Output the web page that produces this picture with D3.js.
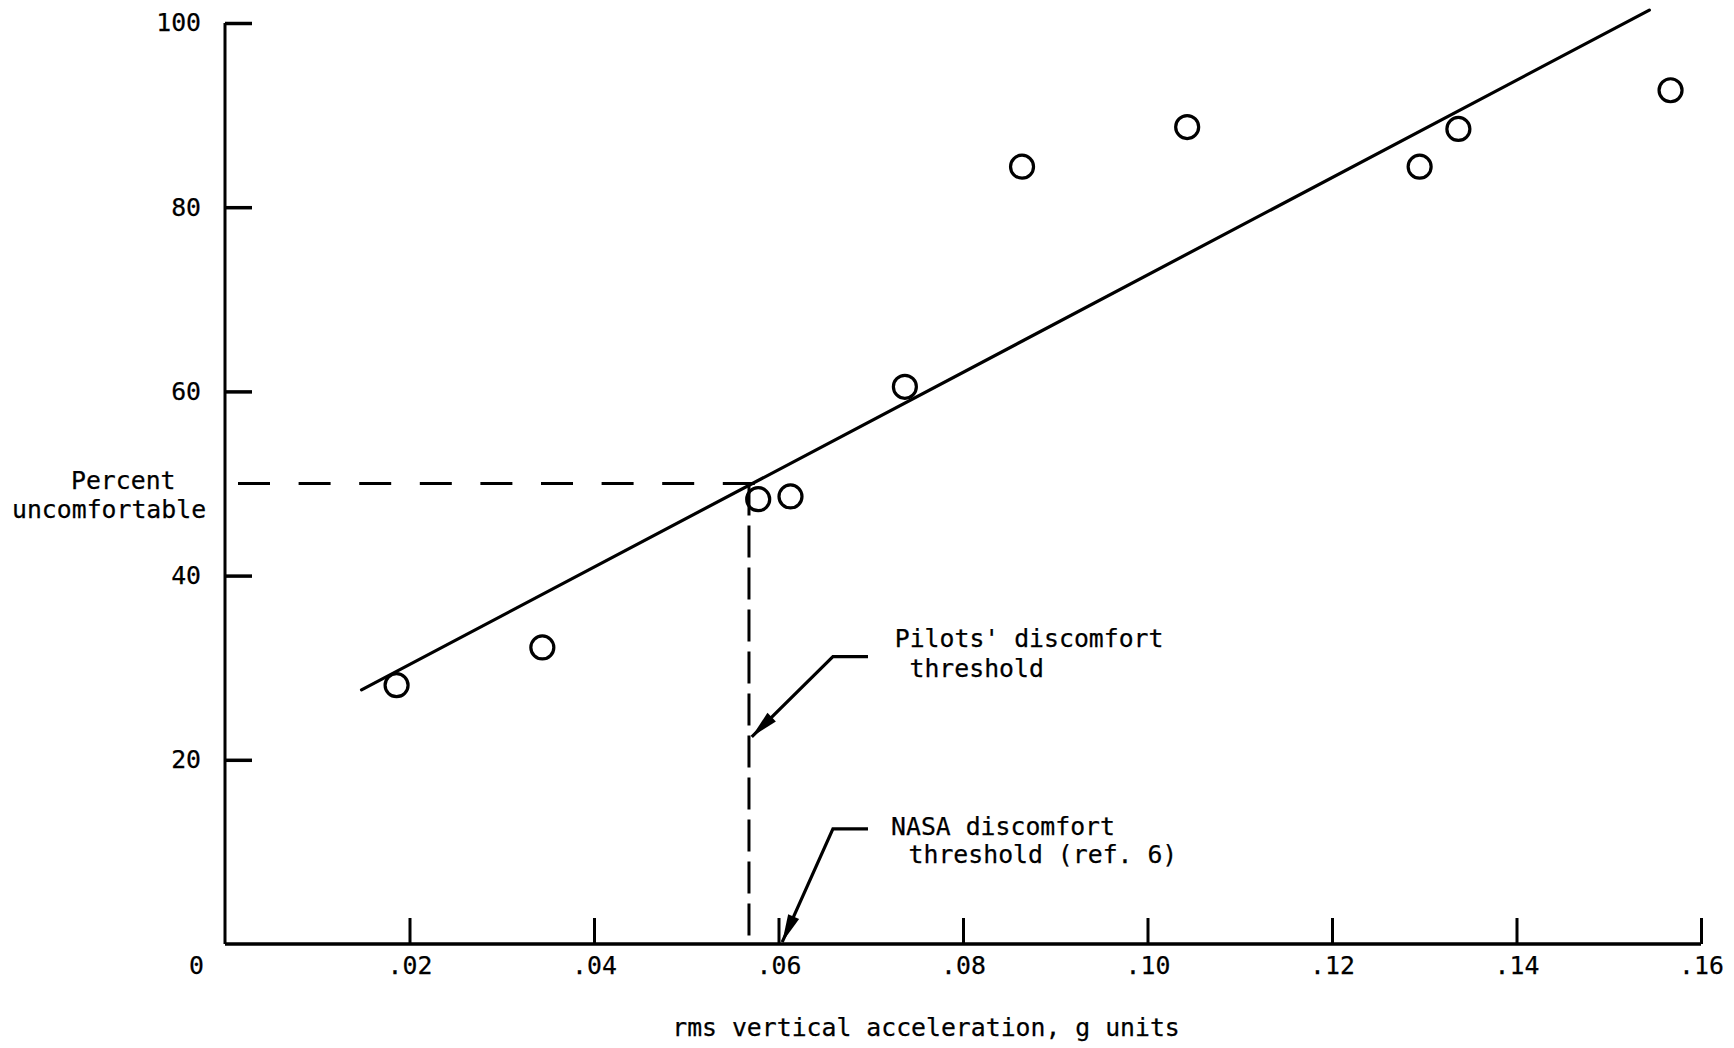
<!DOCTYPE html>
<html>
<head>
<meta charset="utf-8">
<script src="https://cdn.jsdelivr.net/npm/d3@7"></script>
<style>
  html, body { margin: 0; padding: 0; background: #fff; }
  svg { display: block; }
  text { font-family: "DejaVu Sans Mono", "Liberation Mono", monospace; fill: #000; stroke: #000; stroke-width: 0.25px; }
</style>
</head>
<body>
<svg id="chart" width="1734" height="1048"></svg>
<script>
// ---- data ----
const accel   = [0.0186, 0.0344, 0.0578, 0.0613, 0.0737, 0.0864, 0.1043, 0.1295, 0.1337, 0.1567];
const percent = [28.1, 32.2, 48.3, 48.6, 60.5, 84.4, 88.7, 84.4, 88.5, 92.7];
const fitX = [0.0148, 0.1544];
const fitY = [27.6, 101.4];
const thresholdX = 0.0568;   // pilots' discomfort threshold
const thresholdY = 50;
const nasaX = 0.0604;        // NASA discomfort threshold
const xTicks = [0.02, 0.04, 0.06, 0.08, 0.10, 0.12, 0.14, 0.16];
const xTickLabels = [".02", ".04", ".06", ".08", ".10", ".12", ".14", ".16"];
const yTicks = [20, 40, 60, 80, 100];
const yTickLabels = ["20", "40", "60", "80", "100"];
const xTitle = "rms vertical acceleration, g units";
const yTitle = ["Percent", "uncomfortable"];
const pilotsLabel = ["Pilots' discomfort", "threshold"];
const nasaLabel = ["NASA discomfort", "threshold (ref. 6)"];

// ---- layout ----
const svg = d3.select("#chart");
const x = d3.scaleLinear().domain([0, 0.16]).range([225, 1701]);
const y = d3.scaleLinear().domain([0, 100]).range([944, 23]);
const FS = 24.8;

// y axis (ticks pointing right, labels left)
const yAxis = d3.axisLeft(y).tickValues(yTicks)
  .tickFormat((d, i) => yTickLabels[i])
  .tickSizeInner(-27).tickSizeOuter(0).tickPadding(24);
const gy = svg.append("g").attr("transform", `translate(${x(0)},0)`).call(yAxis);
gy.select(".domain").attr("d", `M0,${y(0)}V${y(100)}`).attr("stroke", "#000").attr("stroke-width", 3);
gy.selectAll(".tick line").attr("stroke", "#000").attr("stroke-width", 3.5);
gy.selectAll(".tick text").attr("font-size", FS).attr("font-family", "DejaVu Sans Mono").attr("fill", "#000");

// x axis (ticks pointing up, labels below)
const xAxis = d3.axisBottom(x).tickValues(xTicks)
  .tickFormat((d, i) => xTickLabels[i])
  .tickSizeInner(-26).tickSizeOuter(0).tickPadding(12);
const gx = svg.append("g").attr("transform", `translate(0,${y(0)})`).call(xAxis);
gx.select(".domain").attr("d", `M${x(0)},0H${x(0.16)}`).attr("stroke", "#000").attr("stroke-width", 3.5);
gx.selectAll(".tick line").attr("stroke", "#000").attr("stroke-width", 3);
gx.selectAll(".tick text").attr("font-size", FS).attr("font-family", "DejaVu Sans Mono").attr("fill", "#000");

// origin label
svg.append("text").attr("x", x(0) - 21).attr("y", y(0) + 12).attr("dy", "0.71em")
  .attr("text-anchor", "end").attr("font-size", FS).text("0");

// axis titles
svg.append("text").attr("x", 926).attr("y", 1036)
  .attr("text-anchor", "middle").attr("font-size", FS).text(xTitle);
svg.append("text").attr("x", 71).attr("y", 489).attr("font-size", FS).text(yTitle[0]);
svg.append("text").attr("x", 12).attr("y", 518).attr("font-size", FS).text(yTitle[1]);

// dashed threshold lines
svg.append("line")
  .attr("x1", x(0) + 13).attr("x2", x(thresholdX + 0.0007))
  .attr("y1", y(thresholdY)).attr("y2", y(thresholdY))
  .attr("stroke", "#000").attr("stroke-width", 3).attr("stroke-dasharray", "32,28.6");
svg.append("line")
  .attr("x1", x(thresholdX)).attr("x2", x(thresholdX))
  .attr("y1", y(thresholdY)).attr("y2", y(0))
  .attr("stroke", "#000").attr("stroke-width", 3).attr("stroke-dasharray", "32,10");

// fit line
svg.append("line")
  .attr("x1", x(fitX[0])).attr("y1", y(fitY[0]))
  .attr("x2", x(fitX[1])).attr("y2", y(fitY[1]))
  .attr("stroke", "#000").attr("stroke-width", 3.2).attr("stroke-linecap", "round");

// data points
svg.append("g").selectAll("circle").data(accel).join("circle")
  .attr("cx", d => x(d)).attr("cy", (d, i) => y(percent[i]))
  .attr("r", 11.5).attr("fill", "none").attr("stroke", "#000").attr("stroke-width", 3.2);

// annotations (leader lines with arrowheads), positions in data units
function leader(pts, labelLines, textPos) {
  const p = pts.map(d => [x(d[0]), y(d[1])]);
  svg.append("path").attr("d", d3.line()(p))
    .attr("fill", "none").attr("stroke", "#000").attr("stroke-width", 3.2);
  const a = p[p.length - 2], b = p[p.length - 1];
  const ang = Math.atan2(b[1] - a[1], b[0] - a[0]);
  const L = 28, W = 6;
  const bx = b[0] - L * Math.cos(ang), by = b[1] - L * Math.sin(ang);
  const nx = -Math.sin(ang), ny = Math.cos(ang);
  svg.append("path")
    .attr("d", `M${b[0]},${b[1]}L${bx + W * nx},${by + W * ny}L${bx - W * nx},${by - W * ny}Z`)
    .attr("fill", "#000");
  labelLines.forEach((t, i) => {
    svg.append("text").attr("x", x(textPos[i][0])).attr("y", y(textPos[i][1]))
      .attr("font-size", FS).text(t);
  });
}
leader([[0.0697, 31.2], [0.0659, 31.2], [0.0571, 22.5]], pilotsLabel,
       [[0.0726, 32.3], [0.0742, 29.0]]);
leader([[0.0697, 12.5], [0.0659, 12.5], [nasaX, 0.2]], nasaLabel,
       [[0.0722, 11.8], [0.0741, 8.8]]);
</script>
</body>
</html>
